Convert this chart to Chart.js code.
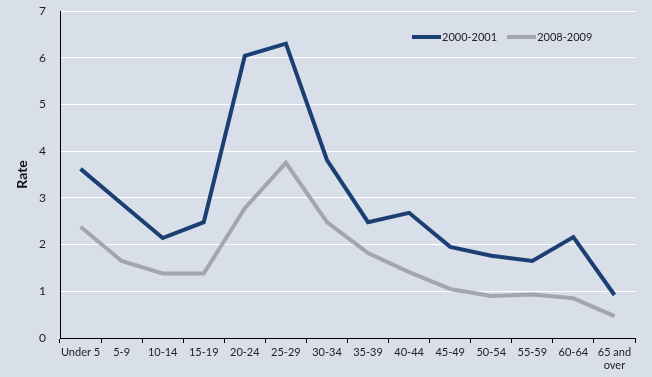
<!DOCTYPE html>
<html>
<head>
<meta charset="utf-8">
<script src="https://cdn.jsdelivr.net/npm/chart.js@4/dist/chart.umd.min.js"></script>
<style>
  html, body { margin: 0; padding: 0; background: #d9dfe8; }
  #wrap { position: relative; width: 652px; height: 377px; }
  #legend { position: absolute; left: 412px; top: 30px; font: 11px Lato, sans-serif; color: #222; }
  #legend span.item { display: inline-block; margin-right: 10px; }
  #legend span.sw { display: inline-block; width: 29px; height: 4px; vertical-align: middle; margin-right: 1px; position: relative; top: -1px; }
</style>
</head>
<body>
<div id="wrap">
  <canvas id="chart" width="652" height="377"></canvas>
  <div id="legend"></div>
</div>
<script>
var categories = ["Under 5", "5-9", "10-14", "15-19", "20-24", "25-29", "30-34", "35-39", "40-44", "45-49", "50-54", "55-59", "60-64", ["65 and", "over"]];
var rate2000 = [3.62, 2.88, 2.14, 2.48, 6.04, 6.3, 3.81, 2.48, 2.68, 1.95, 1.76, 1.65, 2.16, 0.92];
var rate2008 = [2.38, 1.65, 1.38, 1.38, 2.78, 3.75, 2.48, 1.82, 1.41, 1.05, 0.9, 0.93, 0.85, 0.47];
var seriesNames = ["2000-2001", "2008-2009"];
var yTicks = [0, 1, 2, 3, 4, 5, 6, 7];

var blue = "#1c3f73";
var grey = "#a4a6ad";

// simple html legend
var legend = document.getElementById("legend");
[[seriesNames[0], blue], [seriesNames[1], grey]].forEach(function(s) {
  var item = document.createElement("span");
  item.className = "item";
  item.innerHTML = '<span class="sw" style="background:' + s[1] + '"></span>' + s[0];
  legend.appendChild(item);
});

new Chart(document.getElementById("chart"), {
  type: "line",
  data: {
    labels: categories,
    datasets: [{
      label: seriesNames[0],
      data: rate2000,
      borderColor: blue,
      borderWidth: 4,
      pointRadius: 0,
      tension: 0,
      fill: false
    }, {
      label: seriesNames[1],
      data: rate2008,
      borderColor: grey,
      borderWidth: 4,
      pointRadius: 0,
      tension: 0,
      fill: false
    }]
  },
  options: {
    responsive: false,
    animation: false,
    layout: { padding: { top: 11, right: 17, left: 0, bottom: 0 } },
    plugins: {
      legend: { display: false },
      tooltip: { enabled: false }
    },
    scales: {
      x: {
        offset: true,
        grid: {
          offset: true,
          drawOnChartArea: false,
          color: "#000",
          tickLength: 5
        },
        border: { color: "#000", width: 1 },
        ticks: {
          color: "#222",
          font: { family: "Lato", size: 11 },
          maxRotation: 0,
          autoSkip: false,
          padding: 3
        },
        afterFit: function(scale) { scale.height = 39; }
      },
      y: {
        min: 0,
        max: 7,
        afterBuildTicks: function(scale) {
          scale.ticks = yTicks.map(function(v) { return { value: v }; });
        },
        grid: {
          color: "#ffffff",
          lineWidth: 1,
          drawTicks: false
        },
        border: { color: "#000", width: 1 },
        ticks: {
          color: "#222",
          font: { family: "Lato", size: 12 },
          padding: 14
        },
        title: {
          display: true,
          text: "Rate",
          color: "#111",
          font: { family: "Lato", size: 14, weight: "bold" },
          padding: { top: 14, bottom: 0 }
        },
        afterFit: function(scale) {
          scale.width = 60;
          scale.paddingTop = 0;
        }
      }
    }
  }
});
</script>
</body>
</html>
